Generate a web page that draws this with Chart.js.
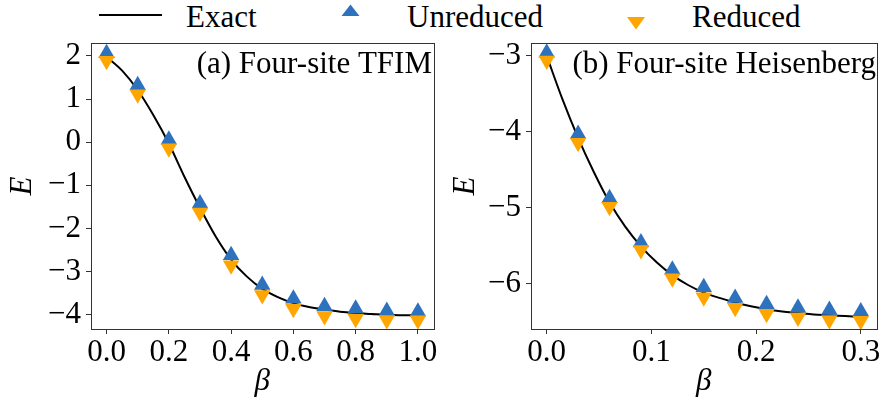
<!DOCTYPE html>
<html>
<head>
<meta charset="utf-8">
<script src="https://cdn.jsdelivr.net/npm/chart.js@4.4.0/dist/chart.umd.min.js"></script>
<style>
  body { margin: 0; background: #fff; }
  #wrap { position: relative; width: 886px; height: 402px; font-family: "Liberation Serif", serif; }
  #wrap canvas { position: absolute; top: 0; }
  .lg { position: absolute; top: 1px; font-size: 31px; line-height: 31px; color: #000; white-space: nowrap; }
</style>
</head>
<body>
<div id="wrap">
  <svg width="886" height="40" style="position:absolute;left:0;top:0">
    <line x1="99" y1="15" x2="162" y2="15" stroke="#000" stroke-width="2"/>
    <polygon points="350.5,4.5 359.5,16 341.5,16" fill="#2e72be"/>
    <polygon points="627,17 645,17 636,29.5" fill="#ffa500"/>
  </svg>
  <div class="lg" style="left:186px">Exact</div>
  <div class="lg" style="left:407px">Unreduced</div>
  <div class="lg" style="left:692px">Reduced</div>
  <canvas id="tfim" width="443" height="402" style="left:0"></canvas>
  <canvas id="heis" width="443" height="402" style="left:443px"></canvas>
</div>
<script>
// panel (a): four-site TFIM
const tfimBeta = [0.0, 0.1, 0.2, 0.3, 0.4, 0.5, 0.6, 0.7, 0.8, 0.9, 1.0];
const tfimUnreduced = [2.06, 1.32, 0.06, -1.42, -2.62, -3.31, -3.63, -3.80, -3.86, -3.91, -3.93];
const tfimReduced = [1.89, 1.11, -0.14, -1.63, -2.85, -3.54, -3.86, -4.03, -4.09, -4.12, -4.125];
const tfimExactBeta = [0.0, 0.05, 0.1, 0.15, 0.2, 0.25, 0.3, 0.35, 0.4, 0.45, 0.5,
  0.55, 0.6, 0.65, 0.7, 0.75, 0.8, 0.85, 0.9, 0.95, 1.0];
const tfimExact = [1.98, 1.66, 1.21, 0.63, -0.03, -0.80, -1.52, -2.18, -2.72, -3.11, -3.40,
  -3.59, -3.73, -3.82, -3.88, -3.93, -3.96, -3.98, -4.00, -4.01, -4.01];
const tfimXTicks = [0.0, 0.2, 0.4, 0.6, 0.8, 1.0];
const tfimYTicks = [-4, -3, -2, -1, 0, 1, 2];

// panel (b): four-site Heisenberg
const heisBeta = [0.0, 0.03, 0.06, 0.09, 0.12, 0.15, 0.18, 0.21, 0.24, 0.27, 0.3];
const heisUnreduced = [-2.96, -4.03, -4.875, -5.46, -5.82, -6.05, -6.19, -6.275, -6.32, -6.35, -6.37];
const heisReduced = [-3.06, -4.146, -4.99, -5.56, -5.93, -6.18, -6.32, -6.40, -6.45, -6.48, -6.49];
const heisExactBeta = [0.0, 0.015, 0.03, 0.045, 0.06, 0.075, 0.09, 0.105, 0.12, 0.135, 0.15,
  0.165, 0.18, 0.195, 0.21, 0.225, 0.24, 0.255, 0.27, 0.285, 0.3];
const heisExact = [-3.00, -3.57, -4.08, -4.53, -4.93, -5.25, -5.51, -5.72, -5.89, -6.02, -6.12,
  -6.19, -6.25, -6.30, -6.34, -6.37, -6.39, -6.41, -6.42, -6.43, -6.44];
const heisXTicks = [0.0, 0.1, 0.2, 0.3];
const heisYTicks = [-6, -5, -4, -3];

const BLUE = '#2e72be', ORANGE = '#ffa500', AXIS = '#333';
const FONT = '"Liberation Serif", "Times New Roman", serif';
const el = id => document.getElementById(id);
const pts = (xs, ys) => xs.map((x, i) => ({ x, y: ys[i] }));
const fmt = v => (v < 0 ? '\u2212' : '') + Math.abs(v);

// box around the plot area plus the panel label
const frame = {
  id: 'frame',
  afterDraw(chart, args, o) {
    const { ctx, chartArea: a } = chart;
    ctx.save();
    ctx.strokeStyle = AXIS; ctx.lineWidth = 1;
    ctx.strokeRect(Math.round(a.left) + 0.5, Math.round(a.top) + 0.5, Math.round(a.right - a.left), Math.round(a.bottom - a.top));
    ctx.fillStyle = '#000'; ctx.font = '31px ' + FONT;
    ctx.textAlign = 'right'; ctx.textBaseline = 'alphabetic';
    ctx.fillText(o.label, o.labelX, 73);
    ctx.restore();
  }
};

function panel(id, p) {
  return new Chart(el(id), {
    type: 'scatter',
    data: { datasets: [
      { type: 'line', data: pts(p.exB, p.exE), borderColor: '#000', borderWidth: 2, pointRadius: 0,
        cubicInterpolationMode: 'monotone', fill: false, order: 2 },
      { data: pts(p.b, p.up), pointStyle: 'triangle', pointRadius: 9.5, backgroundColor: BLUE,
        borderWidth: 0, clip: false, order: 1 },
      { data: pts(p.b, p.down), pointStyle: 'triangle', rotation: 180, pointRadius: 9.5, backgroundColor: ORANGE,
        borderWidth: 0, clip: false, order: 0 }
    ]},
    options: {
      responsive: false, animation: false, events: [],
      layout: { padding: { top: 43, right: p.padRight, left: 0, bottom: 0 } },
      plugins: { legend: { display: false }, tooltip: { enabled: false },
        frame: { label: p.label, labelX: p.labelX } },
      scales: {
        x: {
          type: 'linear', min: p.xMin, max: p.xMax,
          afterBuildTicks: s => { s.ticks = p.xTicks.map(v => ({ value: v })); },
          afterFit: s => { s.height = 73; },
          ticks: { callback: v => v.toFixed(1), color: '#000', padding: 0, maxRotation: 0, autoSkip: false,
            font: { family: FONT, size: 31 } },
          grid: { drawOnChartArea: false, tickLength: 5, color: AXIS },
          border: { display: false },
          title: { display: true, text: 'β', color: '#000', padding: { top: 0, bottom: 2 },
            font: { family: FONT, size: 31, style: 'italic', lineHeight: 1.2 } }
        },
        y: {
          min: p.yMin, max: p.yMax,
          afterBuildTicks: s => { s.ticks = p.yTicks.map(v => ({ value: v })); },
          afterFit: s => { s.width = p.yWidth; },
          ticks: { callback: fmt, color: '#000', padding: 5, autoSkip: false,
            font: { family: FONT, size: 31 } },
          grid: { drawOnChartArea: false, tickLength: 5, color: AXIS },
          border: { display: false },
          title: { display: true, text: 'E', color: '#000', padding: { top: 4, bottom: 0 },
            font: { family: FONT, size: 31, style: 'italic', lineHeight: 1.2 } }
        }
      }
    },
    plugins: [frame]
  });
}

panel('tfim', { exB: tfimExactBeta, exE: tfimExact, b: tfimBeta, up: tfimUnreduced, down: tfimReduced,
  xMin: -0.05, xMax: 1.05, yMin: -4.33, yMax: 2.30, xTicks: tfimXTicks, yTicks: tfimYTicks,
  yWidth: 91, padRight: 4, label: '(a) Four-site TFIM', labelX: 432 });
panel('heis', { exB: heisExactBeta, exE: heisExact, b: heisBeta, up: heisUnreduced, down: heisReduced,
  xMin: -0.015, xMax: 0.315, yMin: -6.60, yMax: -2.83, xTicks: heisXTicks, yTicks: heisYTicks,
  yWidth: 88, padRight: 5, label: '(b) Four-site Heisenberg', labelX: 433 });
</script>
</body>
</html>
